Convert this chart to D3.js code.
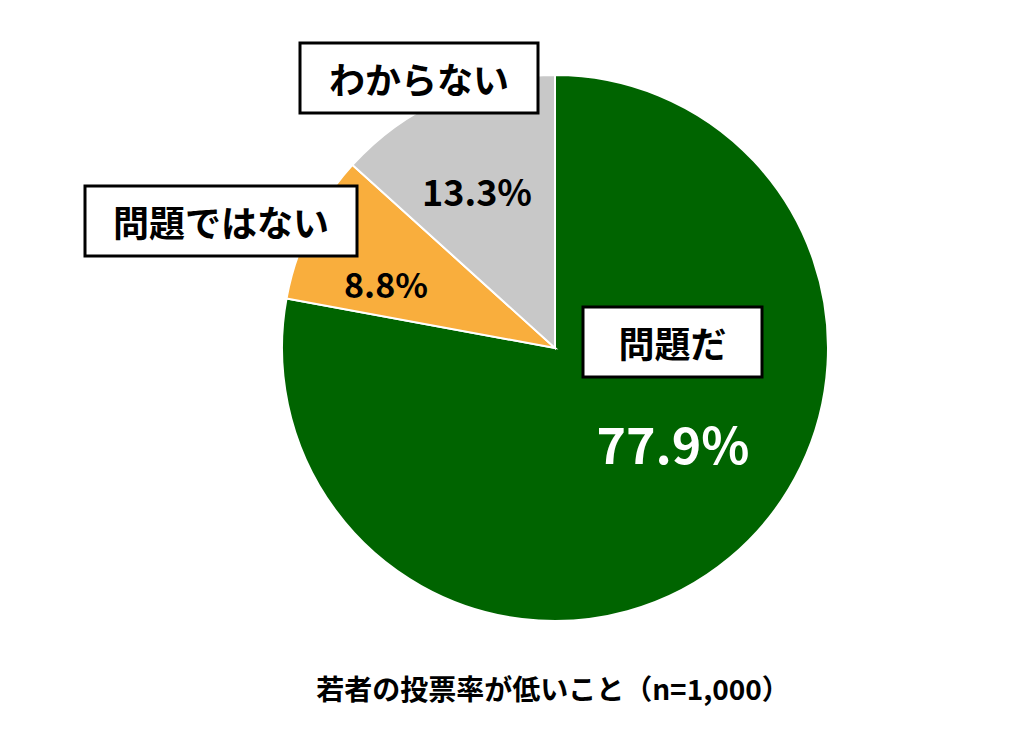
<!DOCTYPE html>
<html><head><meta charset="utf-8">
<script src="https://cdn.jsdelivr.net/npm/d3@7"></script>
<style>body{margin:0;background:#fff}</style>
</head><body><div id="container"></div>
<script>
const categories = ["問題だ", "問題ではない", "わからない"];
const values = [77.9, 8.8, 13.3];
const colors = ["#006400", "#F9AE3D", "#C8C8C8"];
const title = "若者の投票率が低いこと（n=1,000）";

const width = 1017, height = 732;
const cx = 555, cy = 348, r = 273;
const font = "'Noto Sans CJK JP', sans-serif";

const svg = d3.select("#container").append("svg")
  .attr("width", width).attr("height", height);

const pie = d3.pie().sort(null).value(d => d)(values);
const arc = d3.arc().innerRadius(0).outerRadius(r);

const g = svg.append("g").attr("transform", `translate(${cx},${cy})`);
g.selectAll("path").data(pie).join("path")
  .attr("d", arc)
  .attr("fill", (d, i) => colors[i])
  .attr("stroke", "#fff").attr("stroke-width", 2);

// label boxes and percentages (positions relative to layout)
const boxes = [
  {x: 583, y: 307, w: 179, h: 70},
  {x: 85, y: 186, w: 272, h: 70},
  {x: 300, y: 43, w: 238, h: 70}
];
const pcts = [
  {x: 673, y: 442, size: 50, fill: "#fff"},
  {x: 386, y: 283, size: 34, fill: "#000"},
  {x: 477, y: 190, size: 36, fill: "#000"}
];

categories.forEach((c, i) => {
  const b = boxes[i];
  svg.append("rect").attr("x", b.x).attr("y", b.y).attr("width", b.w).attr("height", b.h)
    .attr("fill", "#fff").attr("stroke", "#000").attr("stroke-width", 3);
  svg.append("text").attr("x", b.x + b.w / 2).attr("y", b.y + b.h / 2)
    .attr("text-anchor", "middle").attr("dominant-baseline", "central")
    .attr("font-family", font).attr("font-weight", "bold").attr("font-size", 36)
    .text(c);
  const p = pcts[i];
  svg.append("text").attr("x", p.x).attr("y", p.y)
    .attr("text-anchor", "middle").attr("dominant-baseline", "central")
    .attr("font-family", font).attr("font-weight", "bold").attr("font-size", p.size)
    .attr("fill", p.fill).text(values[i].toFixed(1) + "%");
});

svg.append("text").attr("x", 553).attr("y", 688)
  .attr("text-anchor", "middle").attr("dominant-baseline", "central")
  .attr("font-family", font).attr("font-weight", "bold").attr("font-size", 28)
  .text(title);
</script></body></html>
